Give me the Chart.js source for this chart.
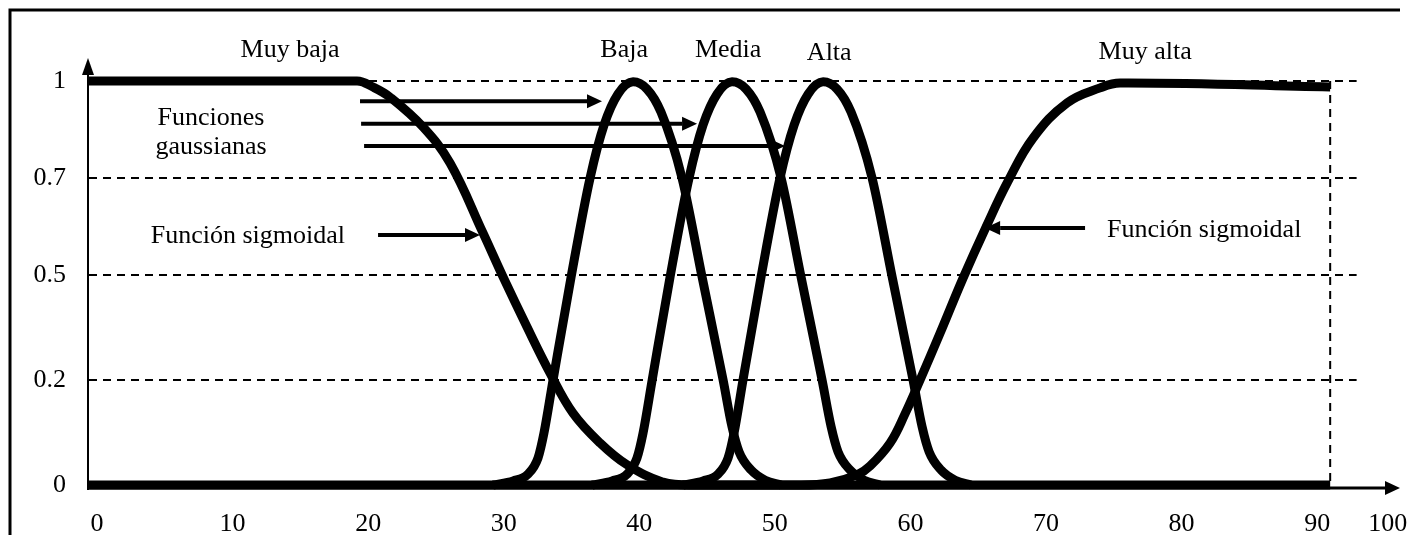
<!DOCTYPE html>
<html>
<head>
<meta charset="utf-8">
<script src="https://cdn.jsdelivr.net/npm/chart.js@4"></script>
<style>
  html, body { margin: 0; padding: 0; background: #fff; }
</style>
</head>
<body>
<canvas id="mainChart" width="1409" height="535"></canvas>
<script>
// tick labels (the picture spaces them evenly, so positions are kept apart from the text)
const xTickValues = [0, 10, 20, 30, 40, 50, 60, 70, 80, 90, 95.2];
const xTickLabels = ['0', '10', '20', '30', '40', '50', '60', '70', '80', '90', '100'];
const yTickValues = [0, 0.26, 0.52, 0.76, 1];
const yTickLabels = ['0', '0.2', '0.5', '0.7', '1'];

// series as [x, grado]
const muyBaja = [[0, 1], [19.77, 1], [20.95, 0.985], [22.2, 0.96], [24.64, 0.886], [26.63, 0.797],
  [29.06, 0.624], [30.54, 0.515], [32.31, 0.391], [34.01, 0.277], [35.7, 0.178], [37.7, 0.104],
  [39.69, 0.05], [42.34, 0.007], [44.33, 0], [91.55, 0]];
const baja = [[29.8, 0], [31.28, 0.01], [32.38, 0.027], [33.12, 0.067], [33.56, 0.129], [34.23, 0.26],
  [35.56, 0.515], [36.96, 0.76], [37.99, 0.891], [39.02, 0.968], [40.13, 0.998], [41.16, 0.98],
  [42.19, 0.923], [43.74, 0.76], [45.22, 0.515], [46.77, 0.26], [47.43, 0.144], [47.95, 0.082],
  [48.84, 0.037], [49.87, 0.012], [51.05, 0]];
const media = [[37.11, 0], [38.58, 0.01], [39.69, 0.027], [40.42, 0.067], [40.87, 0.129], [41.54, 0.26],
  [42.86, 0.515], [44.26, 0.76], [45.29, 0.891], [46.33, 0.968], [47.43, 0.998], [48.47, 0.98],
  [49.5, 0.923], [51.05, 0.76], [52.52, 0.515], [54.07, 0.26], [54.74, 0.144], [55.25, 0.082],
  [56.14, 0.037], [57.17, 0.012], [58.35, 0]];
const alta = [[43.82, 0], [45.29, 0.01], [46.4, 0.027], [47.14, 0.067], [47.58, 0.129], [48.24, 0.26],
  [49.57, 0.515], [50.97, 0.76], [52.01, 0.891], [53.05, 0.968], [54.15, 0.998], [55.18, 0.98],
  [56.21, 0.923], [57.76, 0.76], [59.24, 0.515], [60.78, 0.26], [61.45, 0.144], [61.97, 0.082],
  [62.85, 0.037], [63.88, 0.012], [65.06, 0]];
const muyAlta = [[0, 0], [52.45, 0], [54.66, 0.005], [56.65, 0.025], [57.61, 0.047], [59.09, 0.104],
  [60.19, 0.176], [61.3, 0.26], [62.78, 0.376], [64.47, 0.512], [66.17, 0.639], [67.79, 0.752],
  [69.64, 0.859], [72.15, 0.946], [74.58, 0.983], [76.05, 0.995], [91.55, 0.985]];

const xEnd = 91.55;   // where the curves stop (vertical dashed line)
const gridEnd = 93.5; // dashed guides stop a bit further right

// texts and arrows, in chart units
const labels = [
  { text: 'Muy baja', x: 14.83, y: 1.059 },
  { text: 'Baja', x: 39.47, y: 1.059 },
  { text: 'Media', x: 47.14, y: 1.059 },
  { text: 'Alta', x: 54.6, y: 1.052 },
  { text: 'Muy alta', x: 77.9, y: 1.054 },
  { text: 'Funciones', x: 9.0, y: 0.89 },
  { text: 'gaussianas', x: 9.0, y: 0.82 },
  { text: 'Función sigmoidal', x: 11.72, y: 0.599 },
  { text: 'Función sigmoidal', x: 82.26, y: 0.614 }
];
const arrows = [
  { x1: 19.99, x2: 37.84, y: 0.95 },
  { x1: 20.07, x2: 44.85, y: 0.894 },
  { x1: 20.29, x2: 51.34, y: 0.839 },
  { x1: 21.32, x2: 28.84, y: 0.619 },
  { x1: 73.47, x2: 66.1, y: 0.636 }
];

const FONT = "'Liberation Serif', 'Times New Roman', serif";

function arrow(c, x1, y1, x2, y2, lw, len, half) {
  const a = Math.atan2(y2 - y1, x2 - x1);
  const bx = x2 - Math.cos(a) * len, by = y2 - Math.sin(a) * len;
  c.lineWidth = lw;
  c.beginPath();
  c.moveTo(x1, y1);
  c.lineTo(bx, by);
  c.stroke();
  c.beginPath();
  c.moveTo(x2, y2);
  c.lineTo(bx - Math.sin(a) * half, by + Math.cos(a) * half);
  c.lineTo(bx + Math.sin(a) * half, by - Math.cos(a) * half);
  c.closePath();
  c.fill();
}

const decor = {
  id: 'decor',
  beforeDraw(chart) {
    const c = chart.ctx;
    c.save();
    c.fillStyle = '#fff';
    c.fillRect(0, 0, chart.width, chart.height);
    c.strokeStyle = '#000';
    c.lineWidth = 3;
    c.beginPath();
    c.moveTo(10, chart.height);
    c.lineTo(10, 10);
    c.lineTo(1400, 10);
    c.stroke();
    c.restore();
  },
  beforeDatasetsDraw(chart) {
    const c = chart.ctx;
    const x = chart.scales.x, y = chart.scales.y;
    const x0 = x.getPixelForValue(0);
    const y0 = y.getPixelForValue(0);
    c.save();
    c.strokeStyle = '#000';
    c.fillStyle = '#000';
    c.lineWidth = 2;
    c.setLineDash([8, 6]);
    yTickValues.slice(1).forEach(function(v) {
      const py = y.getPixelForValue(v);
      c.beginPath();
      c.moveTo(x0, py);
      c.lineTo(x.getPixelForValue(gridEnd), py);
      c.stroke();
    });
    const vx = x.getPixelForValue(xEnd);
    c.beginPath();
    c.moveTo(vx, y.getPixelForValue(1));
    c.lineTo(vx, y0);
    c.stroke();
    c.setLineDash([]);
    // y axis with arrow
    c.lineWidth = 2;
    c.beginPath();
    c.moveTo(x0 - 1, y0 + 5);
    c.lineTo(x0 - 1, 74);
    c.stroke();
    c.beginPath();
    c.moveTo(x0 - 1, 58);
    c.lineTo(x0 - 7, 75);
    c.lineTo(x0 + 5, 75);
    c.closePath();
    c.fill();
    // x axis with arrow
    arrow(c, x0, y0 + 3, x.right, y0 + 3, 3, 15, 7);
    c.restore();
  },
  afterDatasetsDraw(chart) {
    const c = chart.ctx;
    const x = chart.scales.x, y = chart.scales.y;
    c.save();
    c.fillStyle = '#000';
    c.strokeStyle = '#000';
    c.font = '26px ' + FONT;
    c.textAlign = 'center';
    c.textBaseline = 'alphabetic';
    labels.forEach(function(l) {
      c.fillText(l.text, x.getPixelForValue(l.x), y.getPixelForValue(l.y));
    });
    arrows.forEach(function(a) {
      const py = y.getPixelForValue(a.y);
      arrow(c, x.getPixelForValue(a.x1), py, x.getPixelForValue(a.x2), py, 4, 15, 7);
    });
    c.restore();
  }
};

function series(label, pts, smooth) {
  return {
    label: label,
    data: pts.map(function(p) { return { x: p[0], y: p[1] }; }),
    borderColor: '#000',
    borderWidth: 9,
    pointRadius: 0,
    fill: false,
    // sigmoids use a plain spline, the bells keep their monotone shape
    cubicInterpolationMode: smooth ? 'default' : 'monotone',
    tension: 0.4,
    borderJoinStyle: 'round',
    clip: false
  };
}

new Chart(document.getElementById('mainChart'), {
  type: 'line',
  data: {
    datasets: [
      series('Muy baja', muyBaja, true),
      series('Baja', baja),
      series('Media', media),
      series('Alta', alta),
      series('Muy alta', muyAlta, true)
    ]
  },
  options: {
    responsive: false,
    animation: false,
    layout: { padding: { top: 81, right: 9, bottom: 0, left: 0 } },
    plugins: { legend: { display: false }, tooltip: { enabled: false } },
    scales: {
      x: {
        type: 'linear',
        min: 0,
        max: 96.7,
        grid: { display: false },
        border: { display: false },
        afterBuildTicks: function(scale) {
          scale.ticks = xTickValues.map(function(v) { return { value: v }; });
        },
        afterFit: function(scale) {
          scale.height = 50;
          scale.paddingLeft = 0;
          scale.paddingRight = 0;
        },
        ticks: {
          autoSkip: false,
          maxRotation: 0,
          padding: 16,
          labelOffset: 8,
          color: '#000',
          font: { family: FONT, size: 26 },
          callback: function(v, i) { return xTickLabels[i]; }
        }
      },
      y: {
        type: 'linear',
        min: 0,
        max: 1,
        grid: { display: false },
        border: { display: false },
        afterBuildTicks: function(scale) {
          scale.ticks = yTickValues.map(function(v) { return { value: v }; });
        },
        afterFit: function(scale) { scale.width = 89; },
        ticks: {
          padding: 15,
          color: '#000',
          font: { family: FONT, size: 26 },
          callback: function(v, i) { return yTickLabels[i]; }
        }
      }
    }
  },
  plugins: [decor]
});
</script>
</body>
</html>
